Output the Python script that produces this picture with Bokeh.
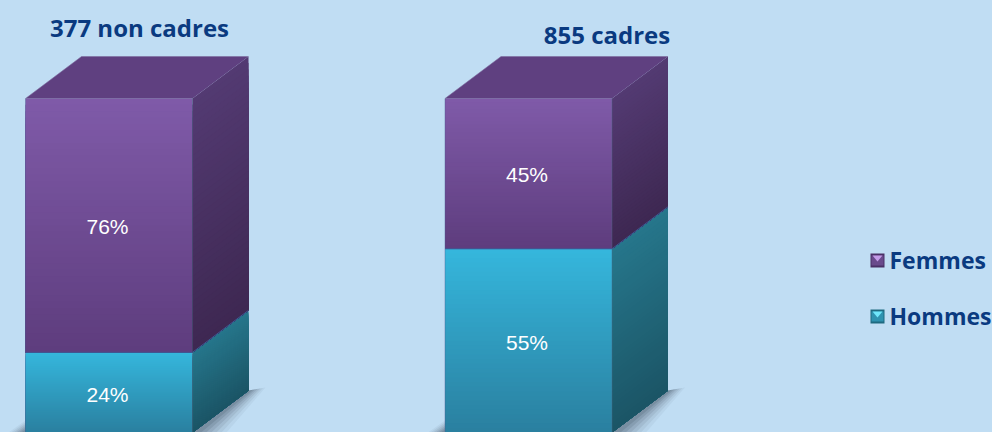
from bokeh.plotting import figure
from bokeh.models import Range1d
from bokeh.core.properties import value
from bokeh.embed import file_html
from bokeh.resources import INLINE

categories = ["377 non cadres", "855 cadres"]
femmes = [76, 45]
hommes = [24, 55]
legend_labels = ["Femmes", "Hommes"]

W, H = 992, 432
PX_X = 419.5      # pixels between the two bars
PX_Y = 3.34       # pixels per percentage point
BG = "#c0ddf3"
NAVY = "#0a3a80"

p = figure(width=W, height=H, output_backend="svg", toolbar_location=None,
           x_range=Range1d(-108.5 / PX_X, (W - 108.5) / PX_X),
           y_range=Range1d(0, H / PX_Y), min_border=0,
           background_fill_color=BG, border_fill_color=BG, outline_line_color=None)
p.axis.visible = False
p.grid.visible = False
p.styles = {"position": "fixed", "left": "0", "top": "0", "background": BG}

half = 83.5 / PX_X
dx = 56 / PX_X
dy = 42 / PX_Y
N = 40


def mix(a, b, t):
    ca = [int(a[i:i + 2], 16) for i in (1, 3, 5)]
    cb = [int(b[i:i + 2], 16) for i in (1, 3, 5)]
    return "#%02x%02x%02x" % tuple(round(u + (v - u) * t) for u, v in zip(ca, cb))


def grad(polys, c0, c1):
    xs, ys, cols = [], [], []
    for k, (a, b) in enumerate(polys):
        xs.append(a)
        ys.append(b)
        cols.append(mix(c0, c1, k / max(1, len(polys) - 1)))
    p.patches(xs, ys, fill_color=cols, line_color=None)


def front(i, lo, hi, c0, c1):
    x0, x1 = i - half, i + half
    polys = []
    for k in range(N):
        t = hi - (hi - lo) * k / N
        polys.append(([x0, x1, x1, x0], [lo, lo, t, t]))
    grad(polys, c0, c1)


def side(i, lo, hi, c0, c1):
    x1, x2 = i + half, i + half + dx
    polys = []
    for k in range(N):
        t = hi - (hi - lo) * k / N
        polys.append(([x1, x2, x2, x1], [lo, lo + dy, t + dy, t]))
    grad(polys, c0, c1)


for i, (f, h) in enumerate(zip(femmes, hommes)):
    # soft shadow
    x1 = i + half
    x0 = i - half
    for w, a in [(1.0, 0.05), (0.85, 0.07), (0.7, 0.09), (0.55, 0.11), (0.4, 0.13), (0.25, 0.15)]:
        p.patch([x1, x1 + dx, x1 + dx + 17 * w / PX_X, x1 + 34 * w / PX_X],
                [0, dy, dy + 3 * w / PX_Y, 0], fill_color="#2a3a48", fill_alpha=a, line_color=None)
        p.patch([x0, x0, x0 - 17 * w / PX_X],
                [0, 12 * w / PX_Y, 0], fill_color="#2a3a48", fill_alpha=a, line_color=None)
    total = f + h
    front(i, 0, h, "#35b6dc", "#2a80a0")
    front(i, h, total, "#7f5aa8", "#5e3d7e")
    side(i, 0, h, "#26768b", "#1b5566")
    side(i, h, total, "#533a72", "#3e2852")
    # top face
    p.patch([x0, x0 + dx, x1 + dx, x1], [total, total + dy, total + dy, total],
            fill_color="#5f4080", line_color=None)
    p.line([x0, x0 + dx, x1 + dx], [total, total + dy, total + dy],
           line_color="#7c6a9c", line_width=0.8, line_alpha=0.7)
    # seam lines
    p.line([x0, x1, x1 + dx], [h, h, h + dy], line_color="#3d5a96", line_width=1)
    p.line([x1, x1], [0, total], line_color="#4a6a8a", line_width=0.8, line_alpha=0.5)
    p.line([x0, x0], [0, total], line_color="#4a5a90", line_width=0.8, line_alpha=0.5)
    # labels
    for v, base, shift in [(h, 0, 2.25), (f, h, 1.25)]:
        p.text([i - 1.5 / PX_X], [base + v / 2 - shift / PX_Y],
               text=[f"{v}%"], text_color="white",
               text_font=value("Liberation Sans"), text_font_size="21px",
               text_align="center", text_baseline="middle")

# titles
title_x = [(139 - 108.5) / PX_X, (606.5 - 108.5) / PX_X]
title_y = [(H - 27) / PX_Y, (H - 34) / PX_Y]
p.text(title_x, title_y, text=categories, text_color=NAVY,
       text_font=value("Open Sans"), text_font_style="bold", text_font_size="24px",
       text_align="center", text_baseline="middle")


# legend
def lx(v):
    return (v - 108.5) / PX_X


def ly(v):
    return (H - v) / PX_Y


for name, yc, dark, mid, light in [
    (legend_labels[0], 260, "#4a3066", "#6a4a8c", "#c39be8"),
    (legend_labels[1], 316, "#1f6a80", "#2f93b0", "#6fe6fa"),
]:
    a, b = 870, 884
    p.quad(left=[lx(a)], right=[lx(b)], top=[ly(yc - 7)], bottom=[ly(yc + 7)],
           fill_color=dark, line_color=None)
    p.quad(left=[lx(a + 1)], right=[lx(b - 1)], top=[ly(yc - 5)], bottom=[ly(yc + 5)],
           fill_color=mid, line_color=None)
    p.patch([lx(a + 2), lx(b - 2), lx((a + b) / 2)], [ly(yc - 5), ly(yc - 5), ly(yc + 1)],
            fill_color=light, line_color=None)
    p.text([lx(889)], [ly(yc - 1)], text=[name], text_color=NAVY,
           text_font=value("Open Sans"), text_font_style="bold", text_font_size="23px",
           text_align="left", text_baseline="middle")

open("out.html", "w").write(file_html(p, INLINE))
